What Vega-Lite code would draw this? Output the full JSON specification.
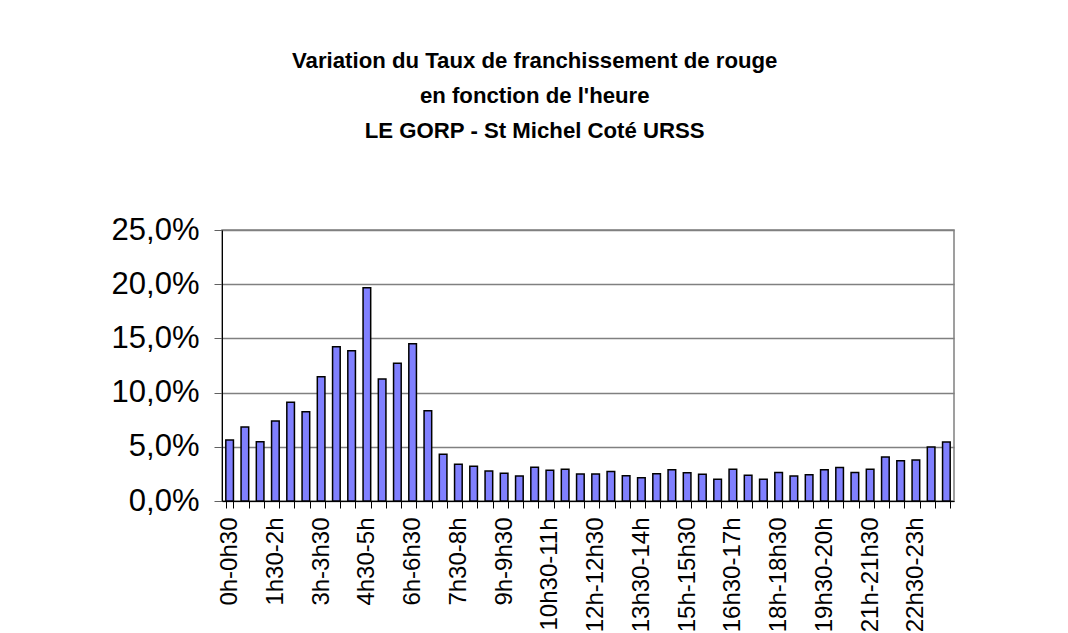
{
  "$schema": "https://vega.github.io/schema/vega-lite/v6.json",
  "autosize": {"type": "none"},
  "width": 732,
  "height": 271,
  "padding": {"left": 222, "top": 230, "right": 114, "bottom": 132},
  "background": "white",
  "title": {
    "text": ["Variation du Taux de franchissement de rouge", "en fonction de l'heure", "LE GORP - St Michel Coté URSS"],
    "font": "Arial, Liberation Sans",
    "fontSize": 22.2,
    "fontWeight": "bold",
    "color": "black",
    "lineHeight": 35,
    "anchor": "middle",
    "frame": "bounds",
    "offset": 72
  },
  "config": {
    "view": {"stroke": "#808080", "strokeWidth": 1.5},
    "font": "Arial, Liberation Sans"
  },
  "data": {
    "values": [
      {"heure": "0h-0h30", "taux": 0.0563},
      {"heure": "0h30-1h", "taux": 0.0683},
      {"heure": "1h-1h30", "taux": 0.0547},
      {"heure": "1h30-2h", "taux": 0.0738},
      {"heure": "2h-2h30", "taux": 0.0910},
      {"heure": "2h30-3h", "taux": 0.0824},
      {"heure": "3h-3h30", "taux": 0.1147},
      {"heure": "3h30-4h", "taux": 0.1424},
      {"heure": "4h-4h30", "taux": 0.1387},
      {"heure": "4h30-5h", "taux": 0.1968},
      {"heure": "5h-5h30", "taux": 0.1125},
      {"heure": "5h30-6h", "taux": 0.1270},
      {"heure": "6h-6h30", "taux": 0.1451},
      {"heure": "6h30-7h", "taux": 0.0833},
      {"heure": "7h-7h30", "taux": 0.0431},
      {"heure": "7h30-8h", "taux": 0.0338},
      {"heure": "8h-8h30", "taux": 0.0320},
      {"heure": "8h30-9h", "taux": 0.0277},
      {"heure": "9h-9h30", "taux": 0.0255},
      {"heure": "9h30-10h", "taux": 0.0231},
      {"heure": "10h-10h30", "taux": 0.0311},
      {"heure": "10h30-11h", "taux": 0.0283},
      {"heure": "11h-11h30", "taux": 0.0292},
      {"heure": "11h30-12h", "taux": 0.0249},
      {"heure": "12h-12h30", "taux": 0.0249},
      {"heure": "12h30-13h", "taux": 0.0271},
      {"heure": "13h-13h30", "taux": 0.0234},
      {"heure": "13h30-14h", "taux": 0.0215},
      {"heure": "14h-14h30", "taux": 0.0252},
      {"heure": "14h30-15h", "taux": 0.0289},
      {"heure": "15h-15h30", "taux": 0.0261},
      {"heure": "15h30-16h", "taux": 0.0246},
      {"heure": "16h-16h30", "taux": 0.0200},
      {"heure": "16h30-17h", "taux": 0.0292},
      {"heure": "17h-17h30", "taux": 0.0237},
      {"heure": "17h30-18h", "taux": 0.0200},
      {"heure": "18h-18h30", "taux": 0.0264},
      {"heure": "18h30-19h", "taux": 0.0231},
      {"heure": "19h-19h30", "taux": 0.0243},
      {"heure": "19h30-20h", "taux": 0.0289},
      {"heure": "20h-20h30", "taux": 0.0308},
      {"heure": "20h30-21h", "taux": 0.0264},
      {"heure": "21h-21h30", "taux": 0.0292},
      {"heure": "21h30-22h", "taux": 0.0406},
      {"heure": "22h-22h30", "taux": 0.0372},
      {"heure": "22h30-23h", "taux": 0.0378},
      {"heure": "23h-23h30", "taux": 0.0498},
      {"heure": "23h30-0h", "taux": 0.0544}
    ]
  },
  "mark": {"type": "bar", "fill": "#8080FF", "stroke": "black", "strokeWidth": 1.5},
  "encoding": {
    "x": {
      "field": "heure",
      "type": "nominal",
      "sort": null,
      "scale": {"paddingInner": 0.5, "paddingOuter": 0.25},
      "axis": {
        "title": null,
        "labelAngle": 270,
        "labelFont": "Arial, Liberation Sans",
        "labelFontSize": 24,
        "labelColor": "black",
        "labelPadding": 9,
        "labelOverlap": false,
        "labelExpr": "indexof(['0h-0h30','1h30-2h','3h-3h30','4h30-5h','6h-6h30','7h30-8h','9h-9h30','10h30-11h','12h-12h30','13h30-14h','15h-15h30','16h30-17h','18h-18h30','19h30-20h','21h-21h30','22h30-23h'], datum.value) >= 0 ? datum.label : ''",
        "tickBand": "extent",
        "tickSize": 7,
        "tickColor": "black",
        "domainColor": "black",
        "domainWidth": 1
      }
    },
    "y": {
      "field": "taux",
      "type": "quantitative",
      "scale": {"domain": [0, 0.25], "nice": false},
      "axis": {
        "title": null,
        "values": [0, 0.05, 0.1, 0.15, 0.2, 0.25],
        "labelExpr": "replace(format(datum.value, '.1%'), '.', ',')",
        "labelFont": "Arial, Liberation Sans",
        "labelFontSize": 31,
        "labelColor": "black",
        "labelPadding": 15,
        "tickSize": 8,
        "tickColor": "#606060",
        "domainColor": "black",
        "grid": true,
        "gridColor": "#808080",
        "gridWidth": 1.5
      }
    }
  }
}
